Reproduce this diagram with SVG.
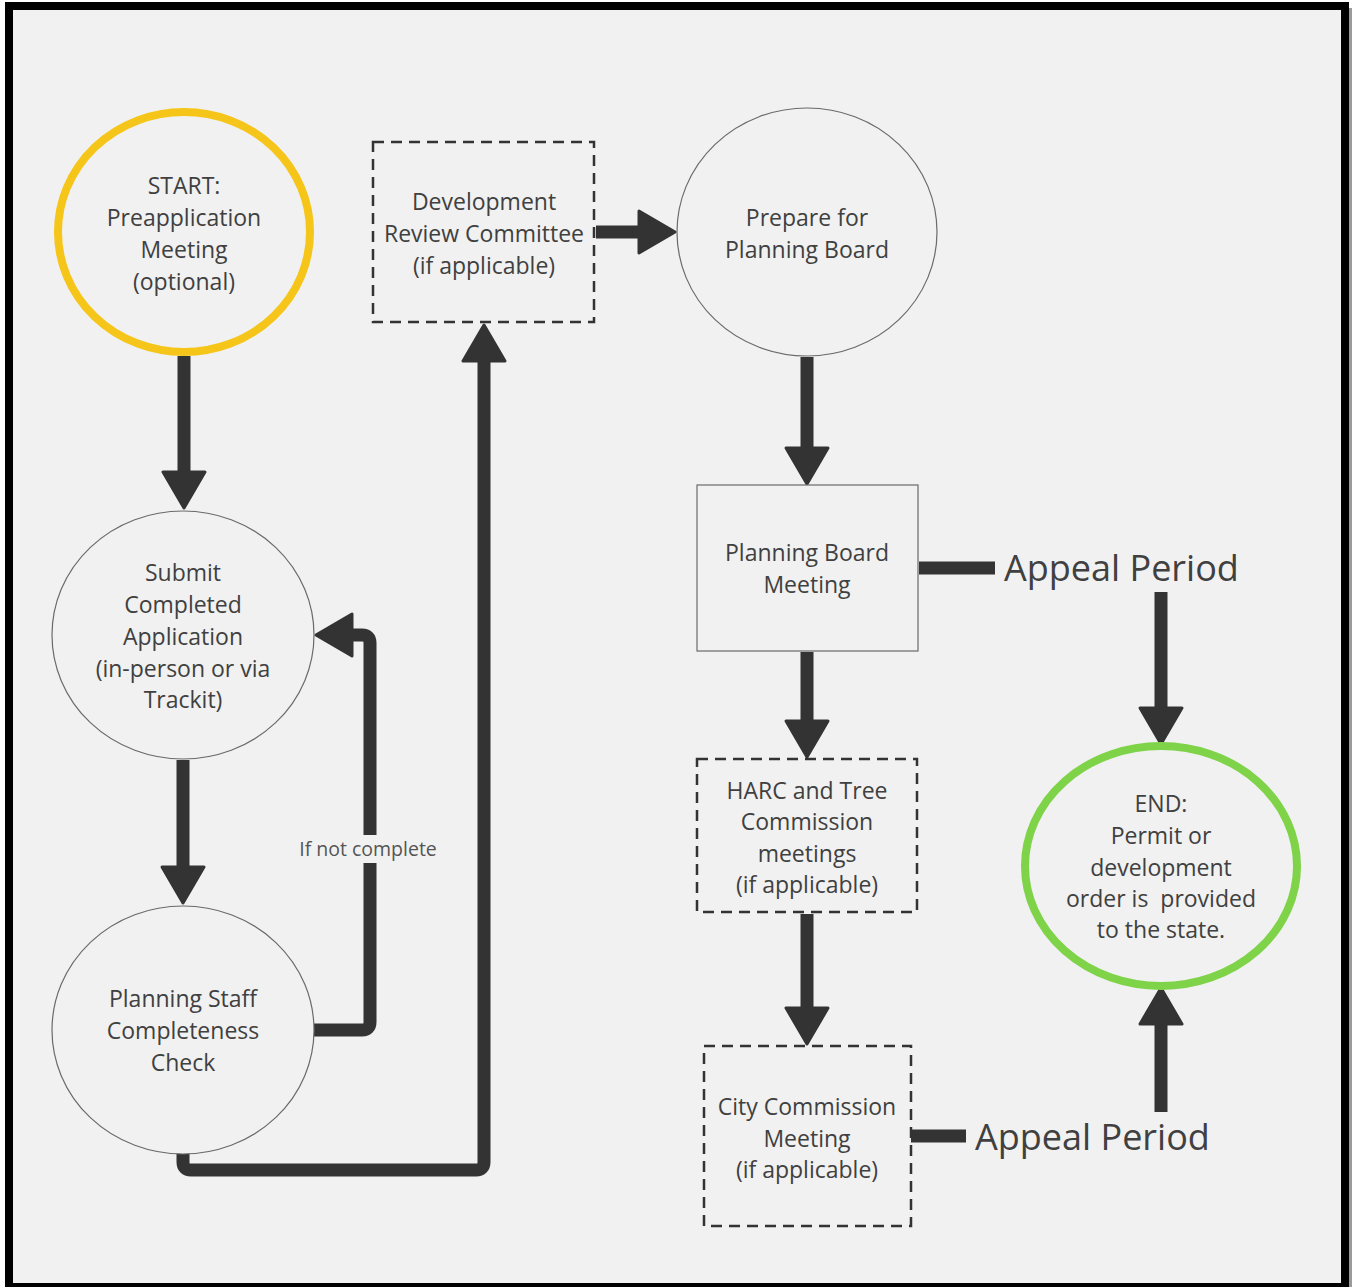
<svg xmlns="http://www.w3.org/2000/svg" width="1354" height="1287" viewBox="0 0 1354 1287">
  <style>
    .lbl { font-family: "Open Sans", "Liberation Sans", sans-serif; font-size: 23px; fill: #404040; text-anchor: middle; white-space: pre; }
    .big { font-family: "Open Sans", "Liberation Sans", sans-serif; font-size: 36px; fill: #404040; }
    .small { font-family: "Open Sans", "Liberation Sans", sans-serif; font-size: 19.5px; fill: #555555; text-anchor: middle; }
    .plain { fill: #f1f1f1; stroke: #6a6a6a; stroke-width: 1.2; }
    .dashed { fill: #f1f1f1; stroke: #333333; stroke-width: 2.5; stroke-dasharray: 11 7; }
    .wire { fill: none; stroke: #333333; stroke-width: 13; stroke-linejoin: round; }
    .arrow { marker-end: url(#head); }
  </style>
  <defs>
    <marker id="head" markerUnits="userSpaceOnUse" viewBox="0 0 42 48" refX="4" refY="24" markerWidth="42" markerHeight="48" orient="auto">
      <path d="M3,3 L39,24 L3,45 Z" fill="#333333" stroke="#333333" stroke-width="3" stroke-linejoin="round"/>
    </marker>
  </defs>

  <!-- page and frame -->
  <rect x="0" y="0" width="1354" height="1287" fill="#ffffff"/>
  <rect x="1349" y="8" width="3" height="1279" fill="#9a9a9a"/>
  <rect x="9" y="6" width="1336" height="1281" fill="#f1f1f1" stroke="#000000" stroke-width="8"/>

  <!-- connectors -->
  <g id="connectors">
    <path class="wire arrow" d="M184,356 V473"/>
    <path class="wire arrow" d="M183,760 V868"/>
    <path class="wire arrow" d="M314,1030 H362 Q370,1030 370,1022 V643 Q370,635 362,635 H351"/>
    <path class="wire arrow" d="M183,1153 V1162 Q183,1170 191,1170 H476 Q484,1170 484,1162 V360"/>
    <path class="wire arrow" d="M596,232 H640"/>
    <path class="wire arrow" d="M807,357 V449"/>
    <path class="wire arrow" d="M807,652 V722"/>
    <path class="wire arrow" d="M807,914 V1009"/>
    <path class="wire" d="M919,568 H995"/>
    <path class="wire arrow" d="M1161,592 V709"/>
    <path class="wire" d="M911,1136 H966"/>
    <path class="wire arrow" d="M1161,1112 V1023"/>
    <rect x="292" y="835" width="152" height="28" fill="#f1f1f1"/>
    <text class="small" x="368" y="856">If not complete</text>
    <text class="big" x="1004" y="581">Appeal Period</text>
    <text class="big" x="975" y="1150">Appeal Period</text>
  </g>

  <g id="start">
    <ellipse cx="184" cy="232" rx="126" ry="120" fill="#f1f1f1" stroke="#f6c519" stroke-width="8"/>
    <text class="lbl" x="184" y="194">START:</text>
    <text class="lbl" x="184" y="226">Preapplication</text>
    <text class="lbl" x="184" y="258">Meeting</text>
    <text class="lbl" x="184" y="290">(optional)</text>
  </g>

  <g id="drc">
    <rect class="dashed" x="373" y="142" width="221" height="180"/>
    <text class="lbl" x="484" y="210">Development</text>
    <text class="lbl" x="484" y="242">Review Committee</text>
    <text class="lbl" x="484" y="274">(if applicable)</text>
  </g>

  <g id="prepare">
    <ellipse class="plain" cx="807" cy="232" rx="130" ry="124"/>
    <text class="lbl" x="807" y="226">Prepare for</text>
    <text class="lbl" x="807" y="258">Planning Board</text>
  </g>

  <g id="submit">
    <ellipse class="plain" cx="183" cy="635" rx="131" ry="124"/>
    <text class="lbl" x="183" y="581">Submit</text>
    <text class="lbl" x="183" y="613">Completed</text>
    <text class="lbl" x="183" y="645">Application</text>
    <text class="lbl" x="183" y="677">(in-person or via</text>
    <text class="lbl" x="183" y="708">Trackit)</text>
  </g>

  <g id="check">
    <ellipse class="plain" cx="183" cy="1030" rx="131" ry="124"/>
    <text class="lbl" x="183" y="1007">Planning Staff</text>
    <text class="lbl" x="183" y="1039">Completeness</text>
    <text class="lbl" x="183" y="1071">Check</text>
  </g>

  <g id="pb-meeting">
    <rect class="plain" x="697" y="485" width="221" height="166"/>
    <text class="lbl" x="807" y="561">Planning Board</text>
    <text class="lbl" x="807" y="593">Meeting</text>
  </g>

  <g id="harc">
    <rect class="dashed" x="697" y="759" width="220" height="153"/>
    <text class="lbl" x="807" y="799">HARC and Tree</text>
    <text class="lbl" x="807" y="830">Commission</text>
    <text class="lbl" x="807" y="862">meetings</text>
    <text class="lbl" x="807" y="893">(if applicable)</text>
  </g>

  <g id="city">
    <rect class="dashed" x="704" y="1046" width="207" height="180"/>
    <text class="lbl" x="807" y="1115">City Commission</text>
    <text class="lbl" x="807" y="1147">Meeting</text>
    <text class="lbl" x="807" y="1178">(if applicable)</text>
  </g>

  <g id="end">
    <ellipse cx="1161" cy="866" rx="136" ry="120" fill="#f1f1f1" stroke="#7ed348" stroke-width="8"/>
    <text class="lbl" x="1161" y="812">END:</text>
    <text class="lbl" x="1161" y="844">Permit or</text>
    <text class="lbl" x="1161" y="876">development</text>
    <text class="lbl" x="1161" y="907">order is  provided</text>
    <text class="lbl" x="1161" y="938">to the state.</text>
  </g>
</svg>
